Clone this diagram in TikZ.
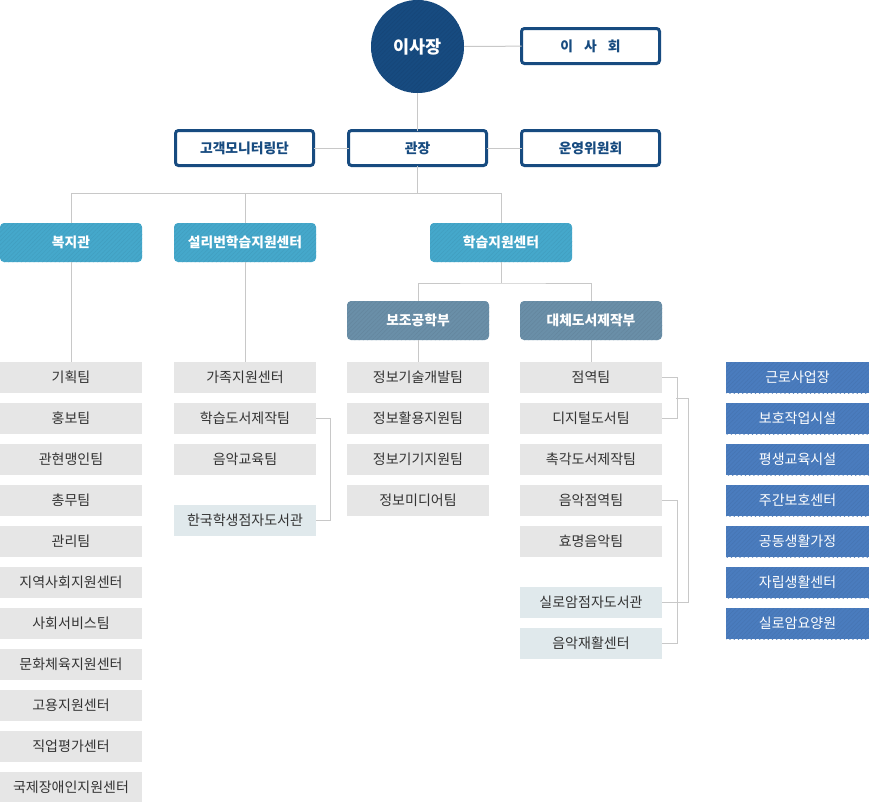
\documentclass[tikz,border=0pt]{standalone}
\usepackage{fontspec}
\setmainfont{Noto Sans CJK KR}
\usetikzlibrary{patterns.meta}
\definecolor{navy}{HTML}{174B80}
\definecolor{skyb}{HTML}{45A8CB}
\definecolor{slateb}{HTML}{6A8FA8}
\definecolor{royb}{HTML}{4A7CBE}
\definecolor{itemg}{HTML}{E6E6E6}
\definecolor{iteml}{HTML}{E0E9EC}
\definecolor{lineg}{HTML}{C8C8C8}
\definecolor{txtg}{HTML}{333333}
\tikzset{
  x=1pt,y=-1pt,
  hatch/.style={preaction={fill=#1},pattern={Lines[angle=45,distance=3pt,line width=.5pt]},pattern color=#1!94!black},
  base/.style={anchor=north west,inner sep=0pt,outer sep=0pt,minimum width=142pt,font=\fontsize{14}{16}\selectfont},
  outl/.style={base,minimum width=138pt,minimum height=35pt,draw=navy,line width=3pt,rounded corners=3pt,fill=white,text=navy,font=\fontsize{13.8}{16}\selectfont\bfseries},
  head/.style={base,minimum height=39pt,rounded corners=4pt,hatch=skyb,text=white,font=\fontsize{13.8}{16}\selectfont\bfseries},
  sub/.style={base,minimum height=39pt,rounded corners=4pt,hatch=slateb,text=white,font=\fontsize{13.8}{16}\selectfont\bfseries},
  item/.style={base,minimum height=31pt,fill=itemg,text=txtg},
  iteml/.style={base,minimum height=31pt,fill=iteml,text=txtg},
  itemb/.style={base,minimum width=143pt,minimum height=31pt,hatch=royb,text=white},
  conn/.style={draw=lineg,line width=1pt},
}
\begin{document}
\begin{tikzpicture}
\useasboundingbox (0,0) rectangle (869,801);
% top
\node[circle,minimum size=93pt,inner sep=0pt,outer sep=0pt,hatch=navy,text=white,font=\fontsize{17.5}{20}\selectfont\bfseries] (ceo) at (417.5,46.5) {이사장};
\node[outl] (board) at (521.5,28.5) {이\hspace{0.8em}사\hspace{0.8em}회};
\node[outl] (cust) at (175.5,130.5) {고객모니터링단};
\node[outl] (dir) at (348.5,130.5) {관장};
\node[outl] (op) at (521.5,130.5) {운영위원회};
% level 3
\node[head] (wel) at (0,223) {복지관};
\node[head] (sul) at (174,223) {설리번학습지원센터};
\node[head] (lrn) at (430,223) {학습지원센터};
\node[sub] (ast) at (347,301) {보조공학부};
\node[sub] (alt) at (520,301) {대체도서제작부};
% column 1
\foreach \t [count=\i from 0] in {기획팀,홍보팀,관현맹인팀,총무팀,관리팀,지역사회지원센터,사회서비스팀,문화체육지원센터,고용지원센터,직업평가센터,국제장애인지원센터}
  \node[item] (a\i) at (0,362+41*\i) {\t};
% column 2
\node[item] (b0) at (174,362) {가족지원센터};
\node[item] (b1) at (174,403) {학습도서제작팀};
\node[item] (b2) at (174,444) {음악교육팀};
\node[iteml] (b3) at (174,505) {한국학생점자도서관};
% column 3
\foreach \t [count=\i from 0] in {정보기술개발팀,정보활용지원팀,정보기기지원팀,정보미디어팀}
  \node[item] (c\i) at (347,362+41*\i) {\t};
% column 4
\foreach \t [count=\i from 0] in {점역팀,디지털도서팀,촉각도서제작팀,음악점역팀,효명음악팀}
  \node[item] (d\i) at (520,362+41*\i) {\t};
\node[iteml] (d5) at (520,587) {실로암점자도서관};
\node[iteml] (d6) at (520,628) {음악재활센터};
% column 5
\foreach \t [count=\i from 0] in {근로사업장,보호작업시설,평생교육시설,주간보호센터,공동생활가정,자립생활센터,실로암요양원}
  \node[itemb] (e\i) at (726,362+41*\i) {\t};
% connectors
\draw[conn] (ceo) -- (board);
\draw[conn] (ceo) -- (dir);
\draw[conn] (cust) -- (dir);
\draw[conn] (dir) -- (op);
\path (dir.south) ++(0,28) coordinate (j1);
\draw[conn] (dir.south) -- (j1);
\draw[conn] (wel.north) |- (j1) -| (lrn.north);
\draw[conn] (sul.north) -- (sul.north |- j1);
\path (lrn.south) ++(0,21) coordinate (j2);
\draw[conn] (lrn.south) -- (j2);
\draw[conn] (ast.north) |- (j2) -| (alt.north);
\draw[conn] (wel.south) -- (a0.north -| wel.south);
\draw[conn] (sul.south) -- (b0.north -| sul.south);
\draw[conn] (ast.south) -- (c0.north);
\draw[conn] (alt.south) -- (d0.north);
% brackets
\draw[conn] (b1.east) -- ++(14,0) |- (b3.east);
\draw[conn] (d0.east) -- ++(15,0) |- (d1.east);
\coordinate (k1) at (676,398);
\draw[conn] (k1) -- (688,398) |- (d5.east);
\draw[conn] (d3.east) -- ++(15,0) |- (d6.east);
\end{tikzpicture}
\end{document}
